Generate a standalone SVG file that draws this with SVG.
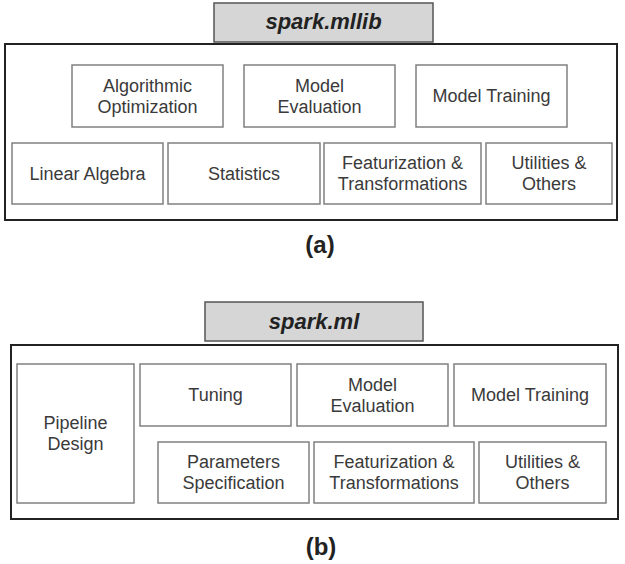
<svg xmlns="http://www.w3.org/2000/svg" width="625" height="564" viewBox="0 0 625 564">
<style>
  .bg{fill:#ffffff}
  .hdr{fill:#d6d6d6;stroke:#555;stroke-width:1.5}
  .outer{fill:none;stroke:#222;stroke-width:2}
  .box{fill:#fff;stroke:#808080;stroke-width:1.5}
  .t{font-family:"Liberation Sans",Arial,sans-serif;font-size:18px;fill:#3a3a3a;text-anchor:middle}
  .h{font-family:"Liberation Sans",Arial,sans-serif;font-size:22px;font-weight:bold;font-style:italic;fill:#222;text-anchor:middle}
  .cap{font-family:"Liberation Sans",Arial,sans-serif;font-size:24px;font-weight:bold;fill:#222;text-anchor:middle}
</style>
<rect class="bg" x="0" y="0" width="625" height="564"/>

<!-- (a) spark.mllib -->
<g id="mllib">
  <rect class="outer" x="5" y="44" width="612" height="176"/>
  <g id="mllib-header"><rect class="hdr" x="214" y="3" width="219" height="39"/><text class="h" x="323.5" y="29">spark.mllib</text></g>
  <g id="a-algo"><rect class="box" x="72" y="65" width="151" height="62"/><text class="t" x="147.5" y="91.5">Algorithmic</text><text class="t" x="147.5" y="112.5">Optimization</text></g>
  <g id="a-eval"><rect class="box" x="244" y="65" width="151" height="62"/><text class="t" x="319.5" y="91.5">Model</text><text class="t" x="319.5" y="112.5">Evaluation</text></g>
  <g id="a-train"><rect class="box" x="416" y="65" width="151" height="62"/><text class="t" x="491.5" y="102">Model Training</text></g>
  <g id="a-linalg"><rect class="box" x="12" y="143" width="151" height="61"/><text class="t" x="87.5" y="179.5">Linear Algebra</text></g>
  <g id="a-stats"><rect class="box" x="168" y="143" width="152" height="61"/><text class="t" x="244" y="179.5">Statistics</text></g>
  <g id="a-feat"><rect class="box" x="324" y="143" width="157" height="61"/><text class="t" x="402.5" y="169">Featurization &amp;</text><text class="t" x="402.5" y="190">Transformations</text></g>
  <g id="a-util"><rect class="box" x="486" y="143" width="126" height="61"/><text class="t" x="549" y="169">Utilities &amp;</text><text class="t" x="549" y="190">Others</text></g>
  <text class="cap" x="320" y="253">(a)</text>
</g>

<!-- (b) spark.ml -->
<g id="ml">
  <rect class="outer" x="11" y="345" width="607" height="174"/>
  <g id="ml-header"><rect class="hdr" x="205" y="302" width="218" height="39"/><text class="h" x="314" y="329">spark.ml</text></g>
  <g id="b-pipe"><rect class="box" x="17" y="364" width="117" height="139"/><text class="t" x="75.5" y="429">Pipeline</text><text class="t" x="75.5" y="450">Design</text></g>
  <g id="b-tune"><rect class="box" x="140" y="364" width="151" height="62"/><text class="t" x="215.5" y="401">Tuning</text></g>
  <g id="b-eval"><rect class="box" x="297" y="364" width="151" height="62"/><text class="t" x="372.5" y="390.5">Model</text><text class="t" x="372.5" y="411.5">Evaluation</text></g>
  <g id="b-train"><rect class="box" x="454" y="364" width="152" height="62"/><text class="t" x="530" y="401">Model Training</text></g>
  <g id="b-params"><rect class="box" x="158" y="442" width="151" height="61"/><text class="t" x="233.5" y="468">Parameters</text><text class="t" x="233.5" y="489">Specification</text></g>
  <g id="b-feat"><rect class="box" x="314" y="442" width="160" height="61"/><text class="t" x="394" y="468">Featurization &amp;</text><text class="t" x="394" y="489">Transformations</text></g>
  <g id="b-util"><rect class="box" x="479" y="442" width="127" height="61"/><text class="t" x="542.5" y="468">Utilities &amp;</text><text class="t" x="542.5" y="489">Others</text></g>
  <text class="cap" x="321" y="555">(b)</text>
</g>
<g id="connectors"/>
</svg>
